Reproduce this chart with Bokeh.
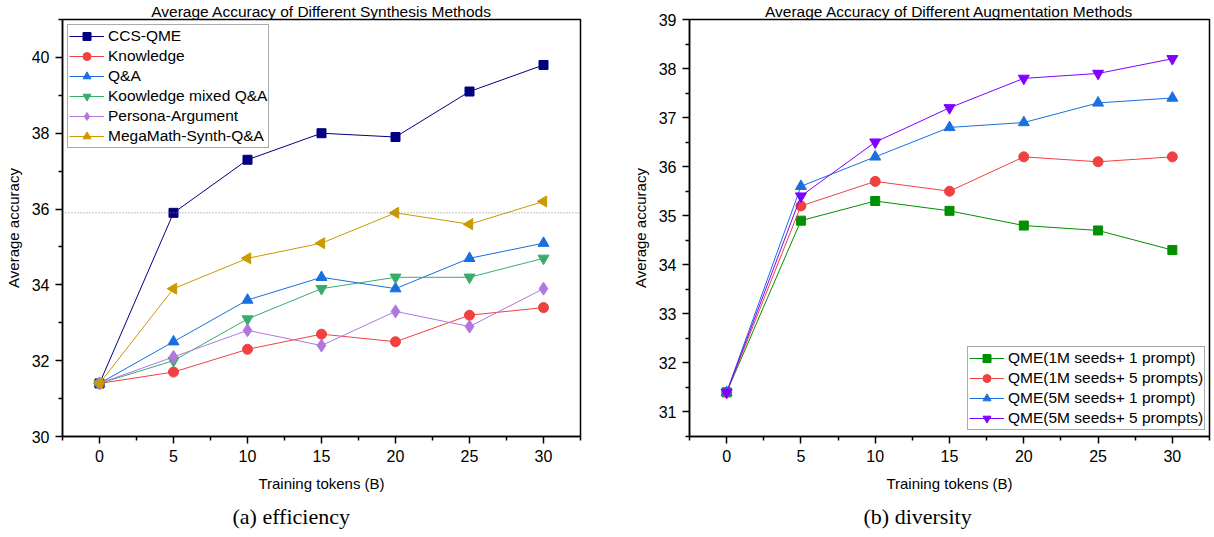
import math
from bokeh.plotting import figure
from bokeh.models import Range1d, FixedTicker, Span, Title
from bokeh.layouts import row
from bokeh.embed import file_html
from bokeh.resources import INLINE

# ---------------- data ----------------
tokens = [0, 5, 10, 15, 20, 25, 30]

# (a) efficiency
ccs_qme = [31.4, 35.9, 37.3, 38.0, 37.9, 39.1, 39.8]
knowledge = [31.4, 31.7, 32.3, 32.7, 32.5, 33.2, 33.4]
qa = [31.4, 32.5, 33.6, 34.2, 33.9, 34.7, 35.1]
knowledge_mixed_qa = [31.4, 32.0, 33.1, 33.9, 34.2, 34.2, 34.7]
persona_argument = [31.4, 32.1, 32.8, 32.4, 33.3, 32.9, 33.9]
megamath_qa = [31.4, 33.9, 34.7, 35.1, 35.9, 35.6, 36.2]
ref_line_a = 35.9

# (b) diversity
qme_1m_1p = [31.4, 34.9, 35.3, 35.1, 34.8, 34.7, 34.3]
qme_1m_5p = [31.4, 35.2, 35.7, 35.5, 36.2, 36.1, 36.2]
qme_5m_1p = [31.4, 35.6, 36.2, 36.8, 36.9, 37.3, 37.4]
qme_5m_5p = [31.4, 35.4, 36.5, 37.2, 37.8, 37.9, 38.2]

x_major = [0, 5, 10, 15, 20, 25, 30]
x_minor = [-2.5, 2.5, 7.5, 12.5, 17.5, 22.5, 27.5, 32.5]
ya_major = [30, 32, 34, 36, 38, 40]
ya_minor = [31, 33, 35, 37, 39, 41]
yb_major = [31, 32, 33, 34, 35, 36, 37, 38, 39]
yb_minor = [30.5, 31.5, 32.5, 33.5, 34.5, 35.5, 36.5, 37.5, 38.5]

FONT = "Liberation Sans"
SERIF = "Liberation Serif"
H = 537
TOP = 18
BOTTOM = 101


def base_fig(width, left, right, yr, ymaj, ymin, title):
    p = figure(width=width, height=H, output_backend="svg", toolbar_location=None,
               x_range=Range1d(-2.5, 32.5), y_range=Range1d(*yr),
               min_border_left=left, min_border_right=right,
               min_border_top=TOP, min_border_bottom=BOTTOM)
    p.title.text = title
    p.title.align = "center"
    p.title.text_font = FONT
    p.title.text_font_size = "15.5px"
    p.title.text_font_style = "normal"
    p.title.text_color = "black"
    p.title.standoff = 0
    p.title.offset = 0
    p.grid.visible = False
    p.outline_line_color = "black"
    p.outline_line_width = 1.5
    p.outline_line_alpha = 1
    p.background_fill_color = "white"
    p.border_fill_color = "white"
    p.xaxis.ticker = FixedTicker(ticks=x_major, minor_ticks=x_minor)
    p.yaxis.ticker = FixedTicker(ticks=ymaj, minor_ticks=ymin)
    for ax in (p.xaxis[0], p.yaxis[0]):
        ax.axis_line_width = 1.5
        ax.axis_line_color = "black"
        ax.major_tick_line_width = 1.5
        ax.minor_tick_line_width = 1.5
        ax.major_tick_line_color = "black"
        ax.minor_tick_line_color = "black"
        ax.major_tick_in = 0
        ax.major_tick_out = 7
        ax.minor_tick_in = 0
        ax.minor_tick_out = 4
        ax.major_label_text_font = FONT
        ax.major_label_text_font_size = "16px"
        ax.major_label_text_color = "black"
        ax.major_label_standoff = 6
        ax.axis_label_text_font = FONT
        ax.axis_label_text_font_size = "15px"
        ax.axis_label_text_font_style = "normal"
        ax.axis_label_text_color = "black"
    p.xaxis.axis_label = "Training tokens (B)"
    p.xaxis.axis_label_standoff = 10
    p.yaxis.axis_label = "Average accuracy"
    p.yaxis.axis_label_standoff = 7
    return p


def add_series(p, ys, color, marker, size, label, angle=0.0):
    p.line(tokens, ys, line_color=color, line_width=1, legend_label=label)
    p.scatter(tokens, ys, marker=marker, size=size, fill_color=color, line_color=color,
              line_width=1, angle=angle, legend_label=label)


def style_legend(p, location, margin):
    lg = p.legend[0]
    lg.location = location
    lg.margin = margin
    lg.padding = 1
    lg.spacing = 0
    lg.glyph_width = 35
    lg.glyph_height = 20
    lg.label_height = 20
    lg.label_standoff = 4
    lg.label_text_font = FONT
    lg.label_text_font_size = "15.5px"
    lg.label_text_color = "black"
    lg.border_line_color = "#555555"
    lg.border_line_width = 1.5
    lg.background_fill_color = "white"
    lg.background_fill_alpha = 1


def add_caption(p, text, offset):
    p.add_layout(Title(text=text, align="left", offset=offset, standoff=14,
                       text_font=SERIF, text_font_size="22px", text_font_style="normal",
                       text_color="black"), "below")


# ---------------- (a) ----------------
W1 = 608
pa = base_fig(W1, 62, 28, (30, 41), ya_major, ya_minor,
              "Average Accuracy of Different Synthesis Methods")
pa.add_layout(Span(location=ref_line_a, dimension="width", line_color="#808080",
                   line_dash="1 2", line_width=1))
add_series(pa, ccs_qme, "#000080", "square", 9, "CCS-QME")
add_series(pa, knowledge, "#F14040", "circle", 10, "Knowledge")
add_series(pa, qa, "#1A6FDF", "triangle", 11, "Q&A")
add_series(pa, knowledge_mixed_qa, "#37AD6B", "inverted_triangle", 11, "Koowledge mixed Q&A")
add_series(pa, persona_argument, "#B177DE", "diamond", 13, "Persona-Argument")
add_series(pa, megamath_qa, "#CC9900", "triangle", 11, "MegaMath-Synth-Q&A", angle=math.pi / 2)
style_legend(pa, "top_left", 5)
add_caption(pa, "(a) efficiency", 170)

# ---------------- (b) ----------------
W2 = 606
pb = base_fig(W2, 81, 5, (30.5, 39), yb_major, yb_minor,
              "Average Accuracy of Different Augmentation Methods")
add_series(pb, qme_1m_1p, "#009000", "square", 9, "QME(1M seeds+ 1 prompt)")
add_series(pb, qme_1m_5p, "#F14040", "circle", 10, "QME(1M seeds+ 5 prompts)")
add_series(pb, qme_5m_1p, "#1A6FDF", "triangle", 11, "QME(5M seeds+ 1 prompt)")
add_series(pb, qme_5m_5p, "#8000FF", "inverted_triangle", 11, "QME(5M seeds+ 5 prompts)")
style_legend(pb, (278, 6), 0)
add_caption(pb, "(b) diversity", 174)

layout = row(pa, pb)
open("out.html", "w").write(file_html(layout, INLINE))
